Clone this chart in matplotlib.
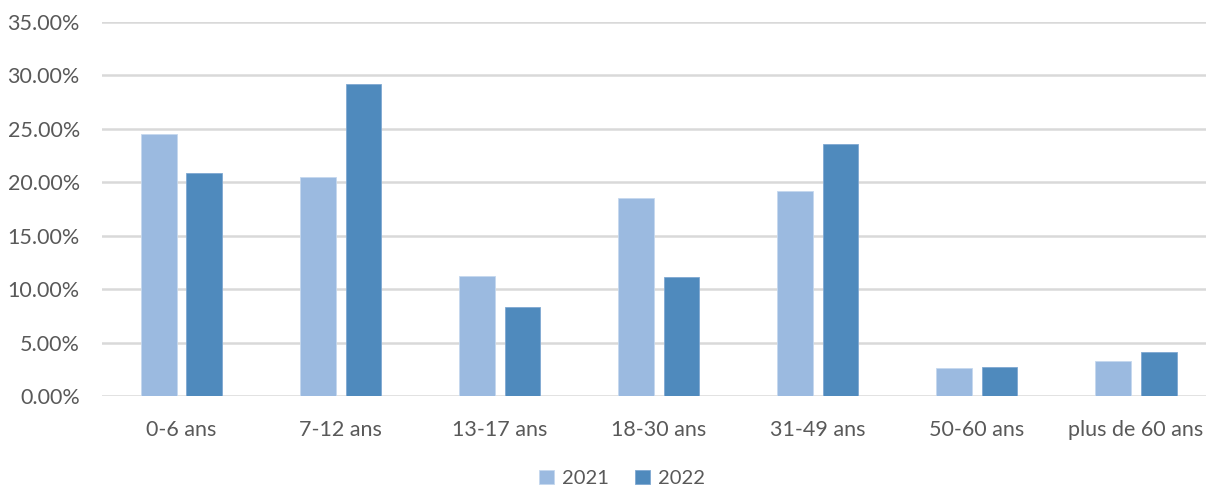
import matplotlib.pyplot as plt
import numpy as np
from matplotlib.ticker import PercentFormatter

categories = ["0-6 ans", "7-12 ans", "13-17 ans", "18-30 ans", "31-49 ans", "50-60 ans", "plus de 60 ans"]
values_2021 = [24.48, 20.51, 11.25, 18.55, 19.20, 2.62, 3.27]
values_2022 = [20.83, 29.16, 8.30, 11.13, 23.57, 2.74, 4.12]

col_2021 = "#9BBAE0"
col_2022 = "#4F8ABD"
txt = "#595959"

plt.rcParams['font.family'] = ['Lato', 'DejaVu Sans']

fig = plt.figure(figsize=(12.06, 4.88), dpi=100)
# axes placed in pixel terms: left 102, bottom 396, top 22
ax = fig.add_axes([102/1206, (488-396)/488, (1206-102)/1206, (396-22)/488])

x = np.arange(len(categories))
w = 0.224
gap = 0.062
ax.bar(x - w/2 - gap/2, np.array(values_2021)/100, w, color=col_2021, label="2021",
       edgecolor="#C5D8EE", linewidth=0.6, zorder=3)
ax.bar(x + w/2 + gap/2, np.array(values_2022)/100, w, color=col_2022, label="2022",
       edgecolor="#7FA8D2", linewidth=0.6, zorder=3)

ax.set_ylim(0, 0.35)
ax.set_yticks(np.arange(0, 0.3501, 0.05))
ax.yaxis.set_major_formatter(PercentFormatter(1.0, decimals=2))
ax.set_xlim(-0.5, 6.44)
ax.set_xticks(x)
ax.set_xticklabels(categories)

ax.grid(axis='y', color="#D9D9D9", linewidth=1.8, zorder=0)
for s in ax.spines.values():
    s.set_visible(False)
ax.tick_params(axis='both', length=0, labelsize=15.5, colors=txt)
ax.tick_params(axis='x', pad=17)
ax.tick_params(axis='y', pad=16)

fig.legend(loc='center', bbox_to_anchor=(0.516, 0.02), ncol=2, frameon=False,
           fontsize=14.5, labelcolor=txt, handlelength=0.75, handleheight=0.75,
           handletextpad=0.4, columnspacing=1.3, borderpad=0.1)

fig.savefig("out.png", dpi=100)
